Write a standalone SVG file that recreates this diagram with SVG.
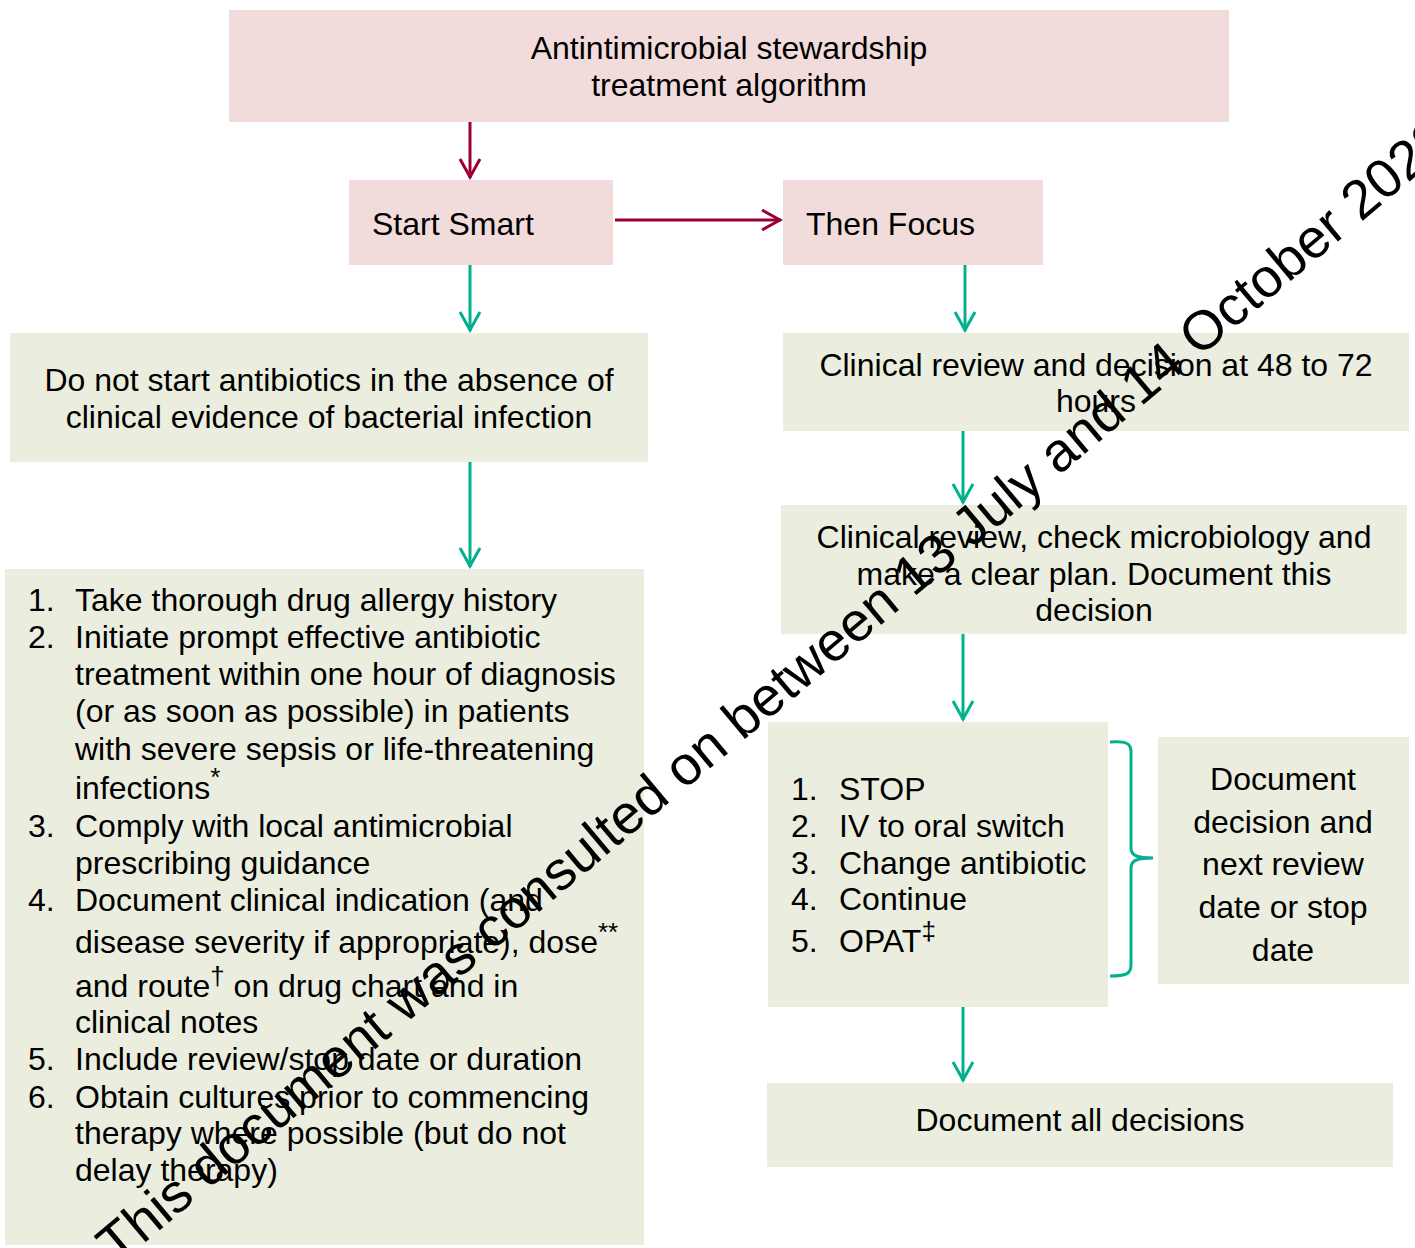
<svg xmlns="http://www.w3.org/2000/svg" width="1415" height="1248" viewBox="0 0 1415 1248">
<style>
text{font-family:"Liberation Sans",Arial,sans-serif;fill:#000;}
.t{font-size:32px;}
.c{text-anchor:middle;}
.pink{fill:#f2dcdb;}
.green{fill:#ebeedf;}
.red{stroke:#9b0034;stroke-width:3;fill:none;}
.teal{stroke:#00b08f;stroke-width:3;fill:none;}
.sup{font-size:26px;}
.wm{font-size:55px;}
</style>
<defs>
<marker id="ar" viewBox="-22 -12 24 24" refX="0" refY="0" markerWidth="24" markerHeight="24" orient="auto" markerUnits="userSpaceOnUse">
<path d="M-19,-10 L-1,0 L-19,10" fill="none" stroke="#9b0034" stroke-width="3"/>
</marker>
<marker id="at" viewBox="-22 -12 24 24" refX="0" refY="0" markerWidth="24" markerHeight="24" orient="auto" markerUnits="userSpaceOnUse">
<path d="M-19,-10 L-1,0 L-19,10" fill="none" stroke="#00b08f" stroke-width="3"/>
</marker>
</defs>
<rect width="1415" height="1248" fill="#fff"/>

<g id="title">
<rect class="pink" x="229" y="10" width="1000" height="112"/>
<text class="t c" x="729" y="59">Antintimicrobial stewardship</text>
<text class="t c" x="729" y="96">treatment algorithm</text>
</g>

<g id="start-smart">
<rect class="pink" x="349" y="180" width="264" height="85"/>
<text class="t" x="372" y="235">Start Smart</text>
</g>

<g id="then-focus">
<rect class="pink" x="783" y="180" width="260" height="85"/>
<text class="t" x="806" y="235">Then Focus</text>
</g>

<g id="do-not-start">
<rect class="green" x="10" y="333" width="638" height="129"/>
<text class="t c" x="329" y="391">Do not start antibiotics in the absence of</text>
<text class="t c" x="329" y="428">clinical evidence of bacterial infection</text>
</g>

<g id="start-list">
<rect class="green" x="5" y="569" width="639" height="676"/>
<text class="t" x="28" y="611">1.</text>
<text class="t" x="75" y="611">Take thorough drug allergy history</text>
<text class="t" x="28" y="648">2.</text>
<text class="t" x="75" y="648">Initiate prompt effective antibiotic</text>
<text class="t" x="75" y="685">treatment within one hour of diagnosis</text>
<text class="t" x="75" y="722">(or as soon as possible) in patients</text>
<text class="t" x="75" y="760">with severe sepsis or life-threatening</text>
<text class="t" x="75" y="799">infections<tspan class="sup" dy="-13">*</tspan></text>
<text class="t" x="28" y="837">3.</text>
<text class="t" x="75" y="837">Comply with local antimicrobial</text>
<text class="t" x="75" y="874">prescribing guidance</text>
<text class="t" x="28" y="911">4.</text>
<text class="t" x="75" y="911">Document clinical indication (and</text>
<text class="t" x="75" y="953">disease severity if appropriate), dose<tspan class="sup" dy="-12">**</tspan></text>
<text class="t" x="75" y="997">and route<tspan class="sup" dy="-12">†</tspan><tspan dy="12"> on drug chart and in</tspan></text>
<text class="t" x="75" y="1033">clinical notes</text>
<text class="t" x="28" y="1070">5.</text>
<text class="t" x="75" y="1070">Include review/stop date or duration</text>
<text class="t" x="28" y="1108">6.</text>
<text class="t" x="75" y="1108">Obtain cultures prior to commencing</text>
<text class="t" x="75" y="1144">therapy where possible (but do not</text>
<text class="t" x="75" y="1181">delay therapy)</text>
</g>

<g id="review-48-72">
<rect class="green" x="783" y="333" width="626" height="98"/>
<text class="t c" x="1096" y="376">Clinical review and decision at 48 to 72</text>
<text class="t c" x="1096" y="412">hours</text>
</g>

<g id="review-micro">
<rect class="green" x="781" y="505" width="626" height="129"/>
<text class="t c" x="1094" y="548">Clinical review, check microbiology and</text>
<text class="t c" x="1094" y="585">make a clear plan. Document this</text>
<text class="t c" x="1094" y="621">decision</text>
</g>

<g id="options">
<rect class="green" x="768" y="722" width="340" height="285"/>
<text class="t" x="791" y="800">1.</text>
<text class="t" x="839" y="800">STOP</text>
<text class="t" x="791" y="837">2.</text>
<text class="t" x="839" y="837">IV to oral switch</text>
<text class="t" x="791" y="874">3.</text>
<text class="t" x="839" y="874">Change antibiotic</text>
<text class="t" x="791" y="910">4.</text>
<text class="t" x="839" y="910">Continue</text>
<text class="t" x="791" y="952">5.</text>
<text class="t" x="839" y="952">OPAT<tspan class="sup" dy="-12">‡</tspan></text>
</g>

<g id="document-decision">
<rect class="green" x="1158" y="737" width="251" height="247"/>
<text class="t c" x="1283" y="790">Document</text>
<text class="t c" x="1283" y="833">decision and</text>
<text class="t c" x="1283" y="875">next review</text>
<text class="t c" x="1283" y="918">date or stop</text>
<text class="t c" x="1283" y="961">date</text>
</g>

<g id="document-all">
<rect class="green" x="767" y="1083" width="626" height="84"/>
<text class="t c" x="1080" y="1131">Document all decisions</text>
</g>

<g id="connectors">
<line class="red" x1="470" y1="122" x2="470" y2="178" marker-end="url(#ar)"/>
<line class="red" x1="615" y1="220" x2="781" y2="220" marker-end="url(#ar)"/>
<line class="teal" x1="470" y1="265" x2="470" y2="331" marker-end="url(#at)"/>
<line class="teal" x1="965" y1="265" x2="965" y2="331" marker-end="url(#at)"/>
<line class="teal" x1="470" y1="462" x2="470" y2="567" marker-end="url(#at)"/>
<line class="teal" x1="963" y1="431" x2="963" y2="503" marker-end="url(#at)"/>
<line class="teal" x1="963" y1="634" x2="963" y2="720" marker-end="url(#at)"/>
<line class="teal" x1="963" y1="1007" x2="963" y2="1081" marker-end="url(#at)"/>
<path class="teal" d="M1110,742 C1126,741 1131,743 1131,752 L1131,848 C1131,856 1138,858 1153,858 C1138,858 1131,860 1131,868 L1131,965 C1131,974 1126,976 1110,976"/>
</g>

<text class="wm" transform="translate(117,1266) rotate(-40)">This document was consulted on between 13 July and 14 October 2022</text>
</svg>
